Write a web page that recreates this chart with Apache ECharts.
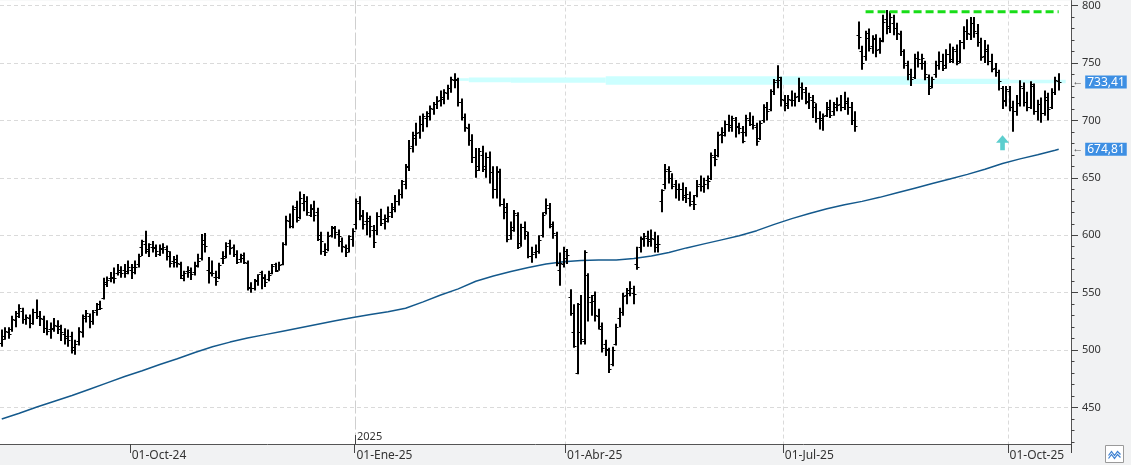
<!DOCTYPE html>
<html>
<head>
<meta charset="utf-8">
<style>
  html, body { margin: 0; padding: 0; background: #fff; }
  #chart { width: 1131px; height: 465px; }
</style>
<script src="https://cdn.jsdelivr.net/npm/echarts@6/dist/echarts.min.js"></script>
</head>
<body>
<div id="chart"></div>
<script>
  // sesiones: desde el 08-ago-24, sin fines de semana ni festivos USA
  const startDate = '2024-08-08';
  const holidays = ['2024-09-02', '2024-11-28', '2024-12-25', '2025-01-01', '2025-01-09', '2025-01-20',
    '2025-02-17', '2025-04-18', '2025-05-26', '2025-06-19', '2025-07-04', '2025-09-01'];
  const emptySlots = 3; // hueco a la derecha del último precio
  const monthNames = ['Ene', 'Feb', 'Mar', 'Abr', 'May', 'Jun', 'Jul', 'Ago', 'Sep', 'Oct', 'Nov', 'Dic'];
  const labelMonths = [0, 3, 6, 9];

  // OHLC diario
  const open = [
    506,512,516,518,526,532,534,527,528,524, 533,530,527,519,518,519,521,518,514,511,
    512,503,508,516,530,530,525,535,540,545, 558,563,563,567,570,570,569,570,572,575,
    590,592,588,590,589,584,588,588,582,578, 579,575,565,569,568,568,574,580,592,570,
    568,564,564,580,582,593,590,584,579,583, 576,555,554,560,568,564,562,567,575,570,
    575,592,612,608,625,616,628,630,618,623, 620,600,586,588,600,606,601,595,590,589,
    597,610,628,618,612,612,605,605,617,614, 615,620,625,630,636,645,660,678,685,690,
    697,702,706,710,714,718,720,724,728,735, 735,716,703,693,683,668,660,670,660,668,
    655,640,655,627,620,600,607,618,593,607, 600,582,585,586,600,620,624,608,600,570,
    575,580,546,516,480,540,508,565,542,548, 530,518,505,500,488,505,528,533,548,552,
    550,575,590,598,598,595,597,590,630,645, 658,650,645,640,640,633,632,630,635,645,
    643,648,650,668,670,688,690,697,696,700, 695,690,690,700,697,694,685,700,712,710,
    726,735,735,718,715,718,718,721,729,725, 716,718,712,702,700,705,710,708,712,714,
    712,715,712,700,774,760,756,772,765,772, 762,770,788,782,785,780,775,760,748,740,
    738,754,750,750,738,730,740,748,752,748, 758,753,760,752,768,778,775,785,776,768,
    756,760,752,746,742,728,718,726,712,708, 715,728,716,712,730,708,714,706,718,712,
    725,734
  ];
  const high = [
    518,520,520,530,534,540,537,531,531,536, 544,534,530,526,524,528,526,522,519,518,
    516,509,520,531,535,532,535,541,543,563, 564,568,572,575,573,575,578,575,578,584,
    596,604,593,595,592,592,593,591,586,582, 583,577,569,573,572,577,584,601,602,581,
    578,569,576,586,594,596,592,587,584,585, 578,559,562,566,569,566,569,575,576,577,
    594,617,619,626,630,638,636,634,627,630, 624,603,593,603,608,608,605,598,592,600,
    606,632,634,622,620,617,609,620,623,618, 625,628,635,640,648,662,683,690,698,704,
    706,708,713,716,721,726,727,731,738,741, 737,719,706,697,688,676,676,678,672,673,
    660,660,658,632,628,612,622,620,610,612, 603,590,592,600,620,632,628,612,603,585,
    590,588,553,540,541,548,587,567,548,551, 536,524,509,502,503,523,537,550,554,560,
    556,590,599,602,604,605,603,600,640,662, 660,654,648,645,646,642,638,635,648,652,
    650,652,672,675,690,694,700,705,704,703, 698,695,705,707,704,698,700,714,716,727,
    736,748,738,722,722,726,724,737,733,729, 724,722,715,708,706,716,718,716,720,722,
    725,720,716,708,786,765,778,780,774,775, 772,792,796,795,792,785,778,762,752,745,
    758,760,758,752,740,738,752,760,758,762, 767,764,766,770,782,788,790,790,784,772,
    770,766,758,750,744,730,730,730,717,722, 735,733,725,734,732,718,720,726,724,728,
    738,741
  ];
  const low = [
    503,509,510,516,520,528,523,522,519,522, 527,521,515,513,510,516,514,508,505,503,
    497,496,504,511,524,519,522,530,535,544, 555,559,558,565,563,563,566,562,566,572,
    582,584,581,585,581,582,584,578,572,572, 572,562,560,563,561,565,572,578,585,558,
    564,556,562,575,580,583,581,575,576,575, 552,550,552,556,553,555,560,566,568,569,
    574,591,606,606,611,614,621,617,616,612, 595,583,582,586,598,597,590,585,581,585,
    590,605,613,605,600,598,589,600,608,605, 611,615,620,626,632,640,656,672,678,684,
    690,694,700,705,710,712,714,718,724,728, 712,700,690,678,663,650,656,655,650,645,
    632,632,625,614,594,596,603,588,590,596, 580,576,580,584,598,618,606,597,573,556,
    572,575,530,502,479,505,505,525,530,525, 518,498,495,480,486,504,520,530,540,547,
    540,570,585,590,590,590,585,585,620,640, 645,640,632,630,630,628,625,622,633,638,
    637,640,648,660,668,680,686,690,690,685, 688,680,686,695,692,678,683,698,700,708,
    722,728,712,708,710,712,712,716,718,714, 710,702,698,692,691,703,702,704,708,708,
    709,705,696,690,762,744,752,760,758,755, 758,768,775,776,774,770,756,745,735,730,
    736,746,744,735,722,728,737,744,743,745, 750,750,748,750,762,770,770,772,764,752,
    750,748,742,738,726,710,712,708,690,704, 712,712,708,710,705,700,698,704,700,710,
    722,726
  ];
  const close = [
    510,517,514,527,530,537,527,529,524,533, 530,528,519,517,518,522,521,516,512,509,
    500,505,517,528,532,525,533,536,537,559, 561,564,563,568,567,567,572,568,572,582,
    595,586,592,590,586,589,590,586,576,577, 576,563,567,570,566,573,578,596,591,567,
    567,560,574,580,591,589,584,577,580,577, 554,554,561,566,563,559,565,573,569,574,
    592,613,608,623,613,632,630,620,624,618, 597,595,585,599,607,603,599,591,585,599,
    604,630,617,610,615,608,594,617,611,612, 617,623,630,636,647,659,676,687,689,697,
    704,704,711,714,717,719,725,728,736,736, 716,703,694,683,668,657,673,658,668,655,
    640,656,627,625,597,605,619,590,607,604, 582,584,586,596,618,626,610,602,576,576,
    586,583,532,504,516,510,585,546,543,531, 521,502,501,484,500,520,533,547,550,554,
    549,572,597,599,597,598,592,592,639,656, 656,643,640,640,635,636,627,627,643,643,
    645,647,670,666,687,687,697,694,702,694, 693,682,702,697,696,682,698,712,708,726,
    733,738,719,713,719,718,720,729,727,717, 720,716,702,702,704,712,705,714,713,712,
    717,712,700,695,773,750,776,763,771,761, 769,786,780,790,780,776,760,750,740,736,
    754,753,754,740,728,736,748,752,746,758, 752,762,750,768,778,776,785,778,768,755,
    762,752,745,742,734,717,727,712,708,715, 730,716,712,732,708,714,706,720,710,725,
    735,733.41
  ];

  // media móvil (muestras cada 5 sesiones)
  const maIndex = [0,5,10,15,20,25,30,35,40,45,50,55,60,65,70,75,80,85,90,95,100,105,110,115,120,125,
    130,135,140,145,150,155,160,165,170,175,180,185,190,195,200,205,210,215,220,225,230,235,240,245,
    250,255,260,265,270,275,280,285,290,295,300,301];
  const maValue = [440,445,450.5,455.5,460.5,466,471.5,477,482,487.5,492.5,498,503,507,510.5,513.5,
    516.5,519.5,522.5,525.5,528.5,531,533.5,536.5,542,548,553.3,560,564.5,568.5,572,575,577,578,578.5,
    578.5,579.7,582,585,589,592.5,596,599.5,604,609.5,614.5,619,623,626.5,629.5,633,637,641,645,649,
    653,657.5,662.5,666.5,670,674,674.81];

  // dibujos: banda cian [desde, hasta, abajo, arriba], resistencia verde, flecha
  const band = [[130,133,734.4,736.7],[133,145,733.2,737.3],[145,172,732.7,737.3],
    [172,259,731,738.5],[259,287,731.7,736.2],[287,303,732.3,735.4]];
  const resistance = [[246, 794.5], [301, 794.5]];
  const arrowPoint = [285, 680.5];
  const lastPrice = 733.41;
  const lastMA = 674.81;

  const yMin = 418.3, yMax = 804.3;
  const yLabels = [450, 500, 550, 600, 650, 700, 750, 800];
  const yMinor = [420,430,440,450,460,470,480,490,500,510,520,530,540,550,560,570,580,590,600,610,620,
    630,640,650,660,670,680,690,700,710,720,730,740,750,760,770,780,790,800];

  const categories = [];
  let d = new Date(startDate + 'T12:00:00Z');
  while (categories.length < close.length + emptySlots) {
    const s = d.toISOString().slice(0, 10);
    const wd = d.getUTCDay();
    if (wd !== 0 && wd !== 6 && holidays.indexOf(s) < 0) categories.push(s);
    d.setUTCDate(d.getUTCDate() + 1);
  }

  function monthStart(i) {
    return i > 0 && categories[i].slice(5, 7) !== categories[i - 1].slice(5, 7);
  }
  function quarterLabel(i) {
    return monthStart(i) && labelMonths.indexOf(+categories[i].slice(5, 7) - 1) >= 0;
  }
  let yearIdx = 1;
  while (categories[yearIdx].slice(0, 4) === categories[0].slice(0, 4)) yearIdx++;

  const bars = close.map(function (c, i) { return [i, open[i], high[i], low[i], c]; });

  function renderBar(params, api) {
    const i = api.value(0);
    const x = Math.round(api.coord([i, 0])[0]);
    const yo = Math.round(api.coord([i, api.value(1)])[1]);
    const yh = api.coord([i, api.value(2)])[1];
    const yl = api.coord([i, api.value(3)])[1];
    const yc = Math.round(api.coord([i, api.value(4)])[1]);
    const st = { fill: '#000' };
    return {
      type: 'group',
      children: [
        { type: 'rect', shape: { x: x - 1, y: yh, width: 2, height: Math.max(yl - yh, 1) }, style: st },
        { type: 'rect', shape: { x: x - 2.5, y: yo, width: 1.5, height: 1 }, style: st },
        { type: 'rect', shape: { x: x + 1, y: yc, width: 1.5, height: 1 }, style: st }
      ]
    };
  }

  // separador de año: línea larga, marca sobre el eje y texto "2025"
  function renderYear(params, api) {
    const cs = params.coordSys;
    const c = api.coord([api.value(0), api.value(1)]);
    const x = Math.round(c[0] - api.size([1, 0])[0] / 2) + 0.5;
    const bottom = cs.y + cs.height;
    return {
      type: 'group',
      children: [
        { type: 'line', shape: { x1: x, y1: cs.y, x2: x, y2: bottom }, style: { stroke: '#cfcfcf', lineWidth: 1, lineDash: [13, 3] } },
        { type: 'line', shape: { x1: x, y1: bottom - 9, x2: x, y2: bottom }, style: { stroke: '#444', lineWidth: 1 } },
        { type: 'text', x: x + 1.5, y: bottom - 2,
          style: { text: categories[yearIdx].slice(0, 4), fill: '#333', fontSize: 11, fontFamily: font, align: 'left', verticalAlign: 'bottom' } }
      ]
    };
  }

  function fmt(v) { return v.toFixed(2).replace('.', ','); }

  const font = 'Noto Sans';
  const chart = echarts.init(document.getElementById('chart'));
  chart.setOption({
    backgroundColor: '#f1f2f3',
    animation: false,
    grid: { left: 0, right: 60, top: 0, bottom: 21, show: true, backgroundColor: '#fff', borderWidth: 0 },
    xAxis: {
      type: 'category',
      data: categories,
      boundaryGap: true,
      axisLine: { lineStyle: { color: '#555', width: 1 } },
      axisTick: { show: true, length: 9, interval: quarterLabel, lineStyle: { color: '#444' } },
      axisLabel: {
        interval: quarterLabel, align: 'left', margin: 6,
        fontFamily: font, fontSize: 12, color: '#333',
        formatter: function (v) { return '01-' + monthNames[+v.slice(5, 7) - 1] + '-' + v.slice(2, 4); }
      },
      splitLine: {
        show: true,
        showMinLine: false,
        showMaxLine: false,
        interval: function (i) { return quarterLabel(i) && i !== yearIdx; },
        lineStyle: { color: '#dadada', type: [4, 3] }
      }
    },
    yAxis: [{
      type: 'value',
      position: 'right',
      min: yMin,
      max: yMax,
      axisLine: { show: true, lineStyle: { color: '#555' } },
      axisTick: { show: true, length: 7, customValues: yLabels, lineStyle: { color: '#444' } },
      axisLabel: { customValues: yLabels, margin: 11, fontFamily: font, fontSize: 11, color: '#333' },
      splitLine: { show: true, lineStyle: { color: '#dadada', type: [4, 3] } }
    }, {
      type: 'value',
      position: 'right',
      min: yMin,
      max: yMax,
      axisLine: { show: false },
      axisTick: { show: true, length: 3.5, customValues: yMinor, lineStyle: { color: '#444' } },
      axisLabel: { show: false },
      splitLine: { show: false }
    }],
    series: [{
      type: 'custom',
      name: 'año',
      data: [[yearIdx, yMin]],
      encode: { x: 0, y: 1 },
      renderItem: renderYear,
      silent: true,
      z: 1
    }, {
      type: 'line',
      name: 'MM',
      data: maIndex.map(function (i, k) { return [i, maValue[k]]; }),
      showSymbol: false,
      lineStyle: { color: '#14598c', width: 1.5 },
      z: 2,
      markArea: {
        silent: true,
        itemStyle: { color: '#ccffff' },
        data: band.map(function (b) { return [{ coord: [b[0], b[2]] }, { coord: [b[1], b[3]] }]; })
      },
      markPoint: {
        symbol: 'rect',
        symbolSize: 1,
        itemStyle: { color: 'rgba(0,0,0,0)' },
        label: {
          show: true,
          position: 'right',
          distance: 13,
          formatter: function (p) { return '{a|←}{b|' + p.name + '}'; },
          rich: {
            a: { color: '#555', fontSize: 11, fontFamily: font, padding: [0, 2, 0, 0] },
            b: { color: '#fff', backgroundColor: '#3d8fe3', fontSize: 12, fontFamily: font, padding: [1, 2, 0, 2] }
          }
        },
        data: [
          { name: fmt(lastPrice), coord: [close.length - 1, lastPrice] },
          { name: fmt(lastMA), coord: [close.length - 1, lastMA] }
        ]
      }
    }, {
      type: 'custom',
      name: 'OHLC',
      data: bars,
      encode: { x: 0, y: [1, 2, 3, 4] },
      renderItem: renderBar,
      clip: true,
      z: 3
    }, {
      type: 'line',
      name: 'resistencia',
      data: resistance,
      showSymbol: false,
      lineStyle: { color: '#18dd18', width: 3, type: [8, 4] },
      z: 4
    }, {
      type: 'scatter',
      name: 'flecha',
      data: [arrowPoint],
      symbol: 'path://M7,0 L14,8 L9.5,8 L9.5,16 L4.5,16 L4.5,8 L0,8 Z',
      symbolSize: [13, 15],
      itemStyle: { color: '#35c2c2' },
      z: 4
    }],
    graphic: [{
      type: 'group',
      right: 7,
      bottom: 2,
      children: [
        { type: 'rect', shape: { x: 0, y: 0, width: 18, height: 17 }, style: { fill: '#fff', stroke: '#9a9a9a', lineWidth: 1 } },
        { type: 'polyline', shape: { points: [[3, 10], [6, 6], [9, 10], [12, 6], [15, 9]] }, style: { stroke: '#3b7fd1', fill: null, lineWidth: 1.2 } },
        { type: 'polyline', shape: { points: [[3, 13], [6, 9], [9, 13], [12, 9], [15, 12]] }, style: { stroke: '#3b7fd1', fill: null, lineWidth: 1.2 } }
      ]
    }]
  });
</script>
</body>
</html>
